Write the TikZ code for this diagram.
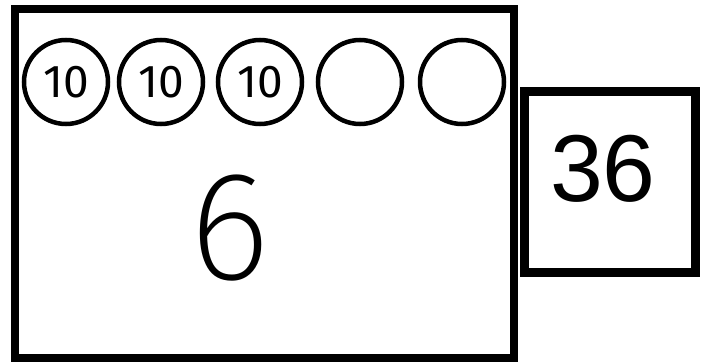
\documentclass[tikz,border=0pt]{standalone}
\usepackage{fontspec}
\setmainfont{Liberation Sans}
\newfontfamily\handreg{Fira Sans}
\newfontfamily\handthin{Fira Sans}[UprightFont={* ExtraLight}]
\begin{document}
\begin{tikzpicture}[x=1pt,y=-1pt,
  frame/.style={draw=black,line width=8pt,inner sep=0pt},
  counter/.style={draw=black,circle,line width=4.5pt,minimum size=84pt,inner sep=0pt,
    font=\handreg\fontsize{46}{46}\selectfont},
  total/.style={draw=black,line width=9pt,inner sep=0pt}]
\useasboundingbox (0,0) rectangle (705,362);
\node[frame,minimum width=498.5pt,minimum height=349pt] (box) at (264.25,183.5) {};
\node[counter] (c1) at (66,82) {10};
\node[counter] (c2) at (161,82) {10};
\node[counter] (c3) at (260,82) {10};
\node[counter] (c4) at (360,82) {};
\node[counter] (c5) at (462,82) {};
\node[inner sep=0pt,font=\handthin\fontsize{155}{155}\selectfont] (six) at (230,228) {6};
\node[total,minimum width=170.5pt,minimum height=181pt] (sum) at (609.75,182) {};
\node[inner sep=0pt,font=\fontsize{95}{95}\selectfont] (sumtext) at (603,169) {36};
\end{tikzpicture}
\end{document}
